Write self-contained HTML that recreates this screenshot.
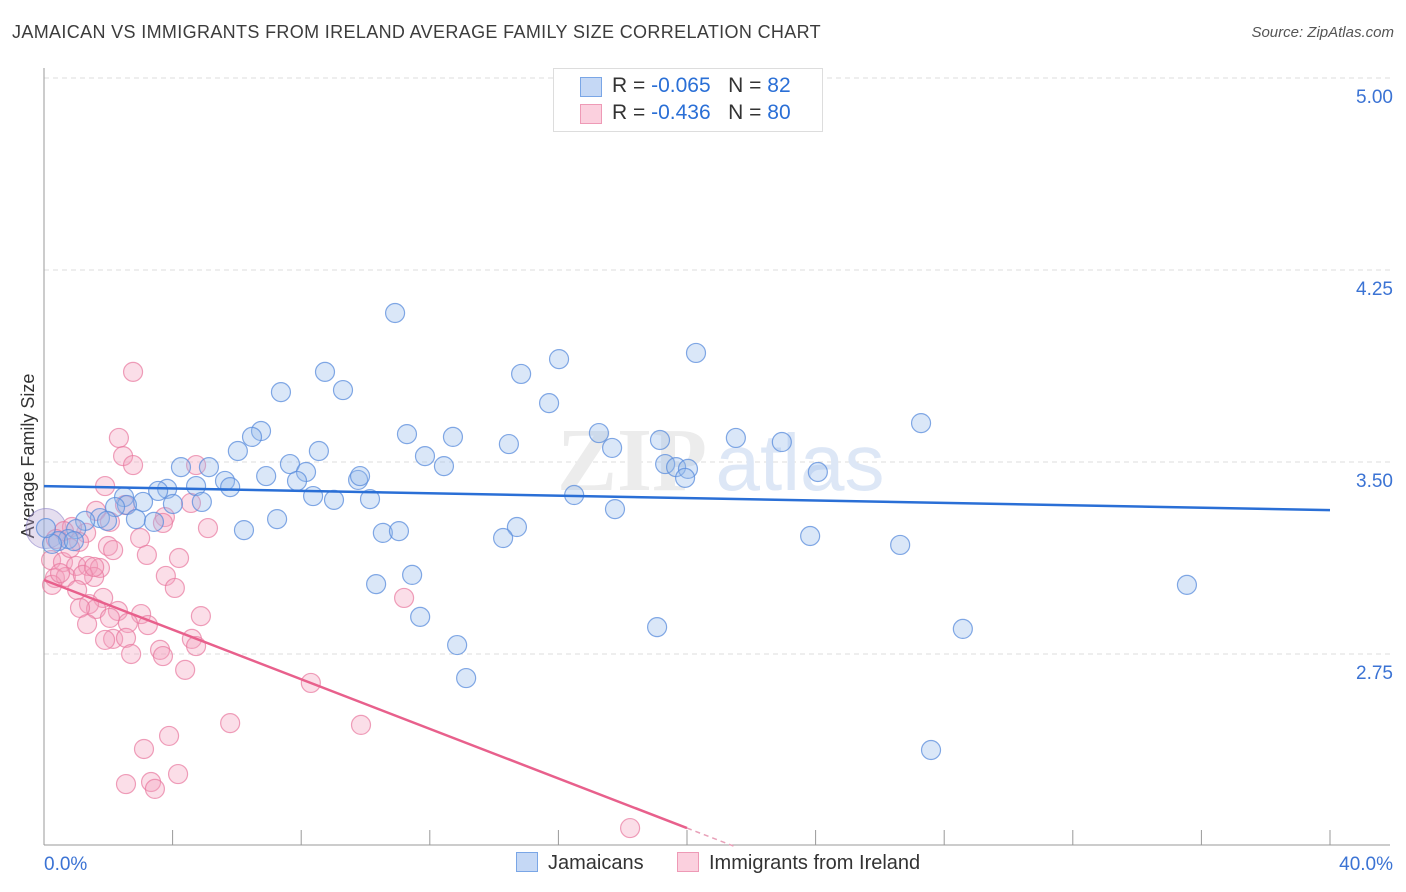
<!DOCTYPE html>
<html><head><meta charset="utf-8"><style>
body{margin:0;background:#fff;font-family:"Liberation Sans",sans-serif;}
#wrap{position:relative;width:1406px;height:892px;overflow:hidden}
.t{position:absolute;white-space:nowrap}
</style></head><body>
<div id="wrap">
<div class="t" style="left:12px;top:22px;font-size:18px;letter-spacing:0.35px;color:#3c3c3c">JAMAICAN VS IMMIGRANTS FROM IRELAND AVERAGE FAMILY SIZE CORRELATION CHART</div>
<div class="t" style="right:12px;top:24px;font-size:15px;color:#555;font-style:italic">Source: ZipAtlas.com</div>
<svg id="plot" width="1406" height="892" style="position:absolute;left:0;top:0"></svg>
</div>
<script>
const xTicks=[0,4,8,12,16,20,24,28,32,36,40];
const yTicks=[2.75,3.5,4.25,5.0];
const yTickLabels=["2.75","3.50","4.25","5.00"];
const xTickLabels=["0.0%","40.0%"];
const blueX=[10.92,20.28,16.02,8.74,14.84,7.37,9.30,15.71,27.28,6.75,6.47,11.29,17.26,12.72,21.52,6.03,14.46,19.16,22.95,17.67,8.55,11.85,12.44,4.26,5.13,7.65,19.32,19.66,20.03,24.07,6.91,8.15,9.77,9.83,5.63,7.87,19.94,4.73,5.79,3.83,3.55,2.49,8.37,9.02,10.14,16.49,4.91,3.08,2.58,4.01,2.21,17.76,1.74,2.86,7.25,1.96,3.42,1.28,14.71,6.22,10.54,11.04,1.00,14.28,23.83,0.75,0.44,0.93,26.63,0.25,0.06,11.45,10.33,35.55,11.70,19.07,28.58,12.85,13.13,27.59];
const blueY=[4.082,3.926,3.902,3.852,3.844,3.773,3.781,3.730,3.652,3.621,3.598,3.609,3.613,3.598,3.594,3.543,3.570,3.586,3.578,3.555,3.543,3.523,3.484,3.480,3.480,3.492,3.492,3.480,3.473,3.461,3.445,3.461,3.430,3.445,3.426,3.426,3.438,3.406,3.402,3.395,3.387,3.363,3.367,3.352,3.355,3.371,3.344,3.344,3.332,3.336,3.324,3.316,3.281,3.277,3.277,3.270,3.266,3.270,3.246,3.234,3.223,3.230,3.238,3.203,3.211,3.199,3.191,3.191,3.176,3.180,3.242,3.059,3.023,3.020,2.895,2.855,2.848,2.785,2.656,2.375];
const pinkX=[2.77,2.33,2.46,2.77,4.73,1.90,1.62,2.52,4.57,3.76,3.70,5.10,2.05,1.31,0.87,0.62,0.37,1.09,1.99,2.99,2.15,3.20,4.20,0.22,0.59,1.00,1.37,1.74,1.56,0.34,0.68,1.21,0.25,3.79,4.07,1.03,1.84,1.40,1.62,2.30,3.02,1.12,4.88,2.05,3.23,1.34,2.61,4.60,2.15,1.90,2.55,4.73,3.61,2.71,3.70,4.39,8.30,5.79,9.86,3.89,3.11,4.17,3.33,2.55,3.45,18.23,11.20,1.56,0.50,0.81];
const pinkY=[3.852,3.594,3.523,3.488,3.488,3.406,3.309,3.332,3.340,3.285,3.262,3.242,3.266,3.223,3.246,3.230,3.199,3.188,3.172,3.203,3.156,3.137,3.125,3.117,3.109,3.094,3.094,3.086,3.051,3.047,3.051,3.059,3.020,3.055,3.008,3.000,2.969,2.945,2.926,2.918,2.906,2.930,2.898,2.891,2.863,2.867,2.871,2.809,2.809,2.805,2.813,2.781,2.766,2.750,2.742,2.688,2.637,2.480,2.473,2.430,2.379,2.281,2.250,2.242,2.223,2.070,2.969,3.090,3.066,3.164];
const blueTrend=[3.406,3.312];
const pinkTrend=[3.039,2.070];
const X0=44,X1=1330,Y5=78,PPU=256;
const xs=v=>X0+(v/40)*(X1-X0);
const ys=v=>Y5+(5-v)*PPU;
const svg=document.getElementById('plot');
const NS='http://www.w3.org/2000/svg';
function mk(tag,attrs){const e=document.createElementNS(NS,tag);for(const k in attrs)e.setAttribute(k,attrs[k]);svg.appendChild(e);return e;}
yTicks.forEach((t,i)=>{
 const l=mk('line',{x1:X0,x2:1390,y1:ys(t),y2:ys(t),stroke:'#ddd','stroke-dasharray':'5,4'});
 
 
 const tx=mk('text',{x:1393,y:ys(t)+25,'text-anchor':'end','font-size':19,fill:'#3b73d4','font-family':'Liberation Sans, sans-serif'});
 tx.textContent=yTickLabels[i];
 
 
});
let ax=mk('line',{x1:X0,x2:X0,y1:68,y2:845,stroke:'#999'});


ax=mk('line',{x1:X0,x2:1390,y1:845,y2:845,stroke:'#999'});


xTicks.forEach(t=>{
 const l=mk('line',{x1:xs(t),x2:xs(t),y1:830,y2:845,stroke:'#999'});
 
 
});
[[0,'start',44],[40,'end',1393]].forEach((a,i)=>{
 const tx=mk('text',{x:a[2],y:870,'text-anchor':a[1],'font-size':19,fill:'#3b73d4','font-family':'Liberation Sans, sans-serif'});
 tx.textContent=xTickLabels[i];
 
 
});
let yt=mk('text',{x:34,y:456,transform:'rotate(-90 34 456)','text-anchor':'middle','font-size':18,fill:'#333','font-family':'Liberation Sans, sans-serif'});
yt.textContent='Average Family Size';


let wm=mk('text',{x:632,y:490,'text-anchor':'middle','font-size':90,fill:'#ececec','font-family':'Liberation Serif, serif','font-weight':'bold'});
wm.textContent='ZIP';


let wm2=mk('text',{x:800,y:490,'text-anchor':'middle','font-size':80,fill:'#dde7f6','font-family':'Liberation Sans, sans-serif'});
wm2.textContent='atlas';


let big=mk('circle',{cx:46,cy:ys(3.24),r:20,fill:'rgba(180,160,210,0.35)',stroke:'rgba(140,130,200,0.6)'});


pinkX.forEach((x,i)=>{
 const c=mk('circle',{cx:xs(x),cy:ys(pinkY[i]),r:9.5,fill:'rgba(244,160,188,0.35)',stroke:'rgba(232,120,158,0.7)','stroke-width':1.2});
 
 
});
blueX.forEach((x,i)=>{
 const c=mk('circle',{cx:xs(x),cy:ys(blueY[i]),r:9.5,fill:'rgba(150,185,235,0.35)',stroke:'rgba(90,140,220,0.75)','stroke-width':1.2});
 
 
});
let bl=mk('line',{x1:xs(0),y1:ys(blueTrend[0]),x2:xs(40),y2:ys(blueTrend[1]),stroke:'#2a6fd6','stroke-width':2.5});


const pslope=(pinkTrend[1]-pinkTrend[0])/20;
let pl=mk('line',{x1:xs(0),y1:ys(pinkTrend[0]),x2:xs(20),y2:ys(pinkTrend[1]),stroke:'#e8608c','stroke-width':2.5});


const xe=20+(2.0-pinkTrend[1])/pslope;
let pd=mk('line',{x1:xs(20),y1:ys(pinkTrend[1]),x2:xs(xe),y2:ys(2.0),stroke:'#e8a0b8','stroke-width':1.5,'stroke-dasharray':'5,4'});


</script>
<div class="t" style="left:553px;top:68px;width:268px;height:62px;border:1px solid #ddd;background:#fff;font-size:21px;color:#333">
 <div style="position:absolute;left:26px;top:8px;width:20px;height:18px;background:#c5d8f5;border:1px solid #7aa6e6"></div>
 <div style="position:absolute;left:58px;top:5px">R = <span style="color:#2a6fd6">-0.065</span>&nbsp;&nbsp;&nbsp;N = <span style="color:#2a6fd6">82</span></div>
 <div style="position:absolute;left:26px;top:35px;width:20px;height:18px;background:#fbd0de;border:1px solid #ee9ab6"></div>
 <div style="position:absolute;left:58px;top:32px">R = <span style="color:#2a6fd6">-0.436</span>&nbsp;&nbsp;&nbsp;N = <span style="color:#2a6fd6">80</span></div>
</div>
<div class="t" style="left:516px;top:852px;font-size:20px;color:#333"><span style="display:inline-block;width:20px;height:18px;background:#c5d8f5;border:1px solid #7aa6e6;vertical-align:-3px;margin-right:10px"></span>Jamaicans</div>
<div class="t" style="left:677px;top:852px;font-size:20px;color:#333"><span style="display:inline-block;width:20px;height:18px;background:#fbd0de;border:1px solid #ee9ab6;vertical-align:-3px;margin-right:10px"></span>Immigrants from Ireland</div>
</body></html>
